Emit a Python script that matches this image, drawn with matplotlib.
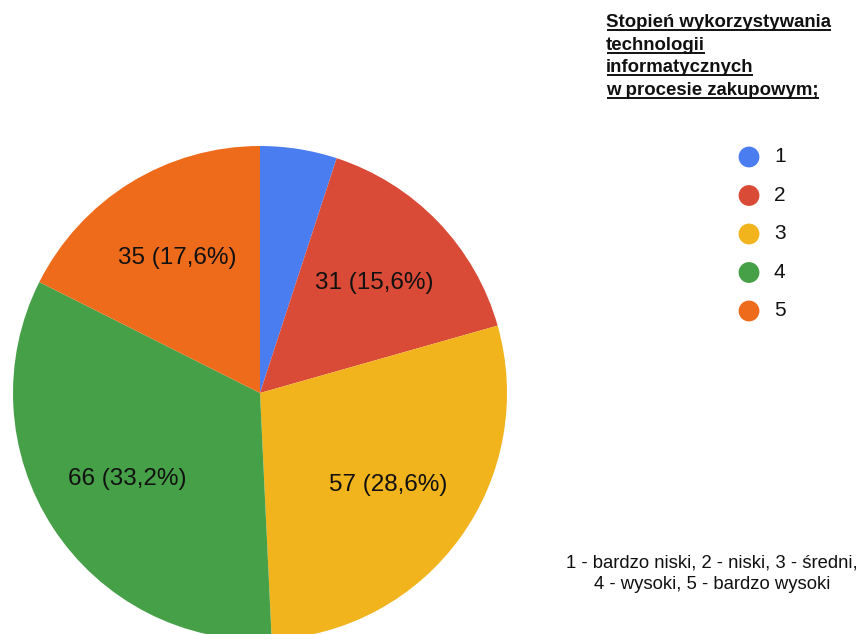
import numpy as np
import matplotlib.pyplot as plt

# Survey answers: level of IT use in purchasing (1 = very low ... 5 = very high)
categories = ["1", "2", "3", "4", "5"]
counts = [10, 31, 57, 66, 35]
colors = ["#4a7df0", "#d94a37", "#f1b41c", "#46a047", "#ef6b1c"]

title_lines = [
    "Stopień wykorzystywania",
    "technologii",
    "informatycznych",
    "w procesie zakupowym;",
]
note_lines = [
    "1 - bardzo niski, 2 - niski, 3 - średni,",
    "4 - wysoki, 5 - bardzo wysoki",
]

W, H = 862, 634
plt.rcParams["font.family"] = ["Liberation Sans", "DejaVu Sans"]

fig = plt.figure(figsize=(W / 100, H / 100), dpi=100)
ax = fig.add_axes([0, 0, 1, 1])

total = sum(counts)


def fmt(pct):
    n = int(round(pct * total / 100))
    if n < 20:
        return ""
    return f"{n} ({pct:.1f}%)".replace(".", ",")


# pixel layout, y measured from the top edge
cx, cy, r = 260, 393, 247
ax.pie(counts, colors=colors, startangle=90, counterclock=False,
       center=(cx, H - cy), radius=r, autopct=fmt, pctdistance=0.64,
       frame=True, wedgeprops=dict(linewidth=0),
       textprops=dict(fontsize=17.5, color="#111111"))

ax.set_xlim(0, W)
ax.set_ylim(0, H)
ax.axis("off")

# title block, bold and underlined
tx, base0, step = 606, 27, 22.7
title_texts = []
for i, line in enumerate(title_lines):
    t = ax.text(tx, H - (base0 + i * step), line, fontsize=13.4, fontweight="bold",
                color="#111111", ha="left", va="baseline")
    title_texts.append(t)

fig.canvas.draw()
renderer = fig.canvas.get_renderer()
inv = ax.transData.inverted()
for i, t in enumerate(title_texts):
    bb = t.get_window_extent(renderer)
    x0, _ = inv.transform((bb.x0, bb.y0))
    x1, _ = inv.transform((bb.x1, bb.y0))
    yline = H - (base0 + i * step + 3)
    ax.plot([x0 + 1, x1], [yline, yline], color="#111111", lw=1.4,
            solid_capstyle="butt")

# legend
leg_y0, leg_step = 157, 38.5
for i, (cat, col) in enumerate(zip(categories, colors)):
    y = H - (leg_y0 + i * leg_step)
    ax.scatter([749], [y], s=15 ** 2, color=col, edgecolors="none")
    ax.text(774, y, cat, fontsize=15, color="#111111", ha="left", va="center")

# scale note
for i, line in enumerate(note_lines):
    ax.text(712, H - (563 + i * 21.5), line, fontsize=13.3, color="#111111",
            ha="center", va="center")

fig.savefig("out.png", dpi=100)
